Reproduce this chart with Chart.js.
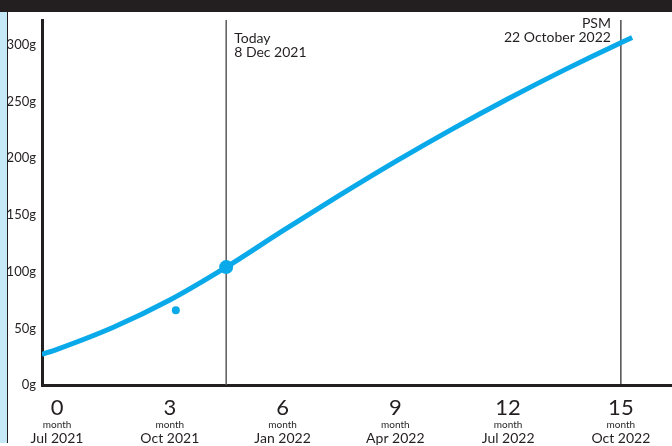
<!DOCTYPE html>
<html>
<head>
<meta charset="utf-8">
<script src="https://cdn.jsdelivr.net/npm/chart.js@4.4.0/dist/chart.umd.min.js"></script>
<style>
  html, body { margin: 0; padding: 0; background: #fff; overflow: hidden; }
  canvas { display: block; }
</style>
</head>
<body>
<canvas id="grafico" width="672" height="446"></canvas>
<script>
// datos de la curva (meses desde Jul 2021, gramos)
const meses = [-0.4, 0, 1.5, 3, 4.5, 6, 7.5, 9, 10.5, 12, 13.5, 15, 15.3];
const gramos = [27, 31.5, 51, 75, 104, 136, 167, 197, 225.5, 252.5, 278, 302, 306.5];

// puntos sueltos
const puntoHoy = { x: 4.5, y: 104 };
const puntoMedido = { x: 3.16, y: 66 };

// ticks
const ticksY = [0, 50, 100, 150, 200, 250, 300];
const ticksX = [0, 3, 6, 9, 12, 15];
const fechasX = ['Jul 2021', 'Oct 2021', 'Jan 2022', 'Apr 2022', 'Jul 2022', 'Oct 2022'];

// lineas verticales
const lineaHoy = 4.5;
const lineaPSM = 15;

const azul = '#0aa9e9';
const oscuro = '#231f20';
const fuente = 'Lato, "Open Sans", sans-serif';

const fondo = {
    id: 'fondo',
    beforeDraw(chart) {
        const c = chart.ctx;
        c.save();
        c.fillStyle = '#fff';
        c.fillRect(0, 0, chart.width, chart.height);
        c.fillStyle = '#c6e9f8';
        c.fillRect(0, 0, 7, 443);
        c.fillStyle = oscuro;
        c.fillRect(7, 0, 1, 443);
        c.fillRect(0, 0, chart.width, 12);
        c.restore();
    }
};

const extras = {
    id: 'extras',
    beforeDatasetsDraw(chart) {
        const c = chart.ctx;
        const x = chart.scales.x;
        const area = chart.chartArea;
        c.save();
        // Today
        let px = x.getPixelForValue(lineaHoy);
        c.strokeStyle = '#5a5a5a';
        c.lineWidth = 1.5;
        c.beginPath(); c.moveTo(px, area.top); c.lineTo(px, area.bottom); c.stroke();
        c.fillStyle = oscuro;
        c.font = '14px ' + fuente;
        c.textAlign = 'left';
        c.textBaseline = 'middle';
        c.fillText('Today', px + 8, 38);
        c.fillText('8 Dec 2021', px + 8, 52);
        // PSM
        px = x.getPixelForValue(lineaPSM);
        c.strokeStyle = oscuro;
        c.lineWidth = 1.2;
        c.beginPath(); c.moveTo(px, area.top); c.lineTo(px, area.bottom); c.stroke();
        c.textAlign = 'right';
        c.fillText('PSM', px - 10, 23);
        c.fillText('22 October 2022', px - 10, 37);
        c.restore();
    },
    afterDraw(chart) {
        const c = chart.ctx;
        const x = chart.scales.x;
        c.save();
        c.fillStyle = oscuro;
        c.textAlign = 'center';
        c.textBaseline = 'middle';
        ticksX.forEach((v, i) => {
            const px = x.getPixelForValue(v);
            c.font = '22px ' + fuente;
            c.fillText(String(v), px, 408);
            c.font = '10px ' + fuente;
            c.fillText('month', px, 425);
            c.font = '14px ' + fuente;
            c.fillText(fechasX[i], px, 438);
        });
        c.restore();
    }
};

const ctx = document.getElementById('grafico').getContext('2d');
new Chart(ctx, {
    type: 'line',
    data: {
        datasets: [{
            data: meses.map((m, i) => ({ x: m, y: gramos[i] })),
            borderColor: azul,
            borderWidth: 5,
            pointRadius: 0,
            cubicInterpolationMode: 'monotone',
            fill: false
        }, {
            data: [puntoHoy],
            showLine: false,
            pointRadius: 7,
            pointBackgroundColor: azul,
            pointBorderWidth: 0
        }, {
            data: [puntoMedido],
            showLine: false,
            pointRadius: 4,
            pointBackgroundColor: azul,
            pointBorderWidth: 0
        }]
    },
    options: {
        responsive: false,
        animation: false,
        maintainAspectRatio: false,
        layout: { autoPadding: false, padding: { top: 20, left: 0, right: 0, bottom: 0 } },
        plugins: { legend: { display: false }, tooltip: { enabled: false } },
        scales: {
            x: {
                type: 'linear',
                min: -0.4,
                max: 16.36,
                grid: { display: false, drawTicks: false },
                border: { display: true, color: oscuro, width: 3 },
                ticks: { display: false },
                afterFit(scale) { scale.height = 61; }
            },
            y: {
                min: 0,
                max: 322,
                grid: { display: false, drawTicks: false },
                border: { display: true, color: oscuro, width: 3 },
                afterBuildTicks(scale) { scale.ticks = ticksY.map(v => ({ value: v })); },
                ticks: {
                    color: oscuro,
                    font: { family: fuente, size: 13 },
                    padding: 6,
                    callback: v => v + 'g'
                },
                afterFit(scale) { scale.width = 42; }
            }
        }
    },
    plugins: [fondo, extras]
});
</script>
</body>
</html>
